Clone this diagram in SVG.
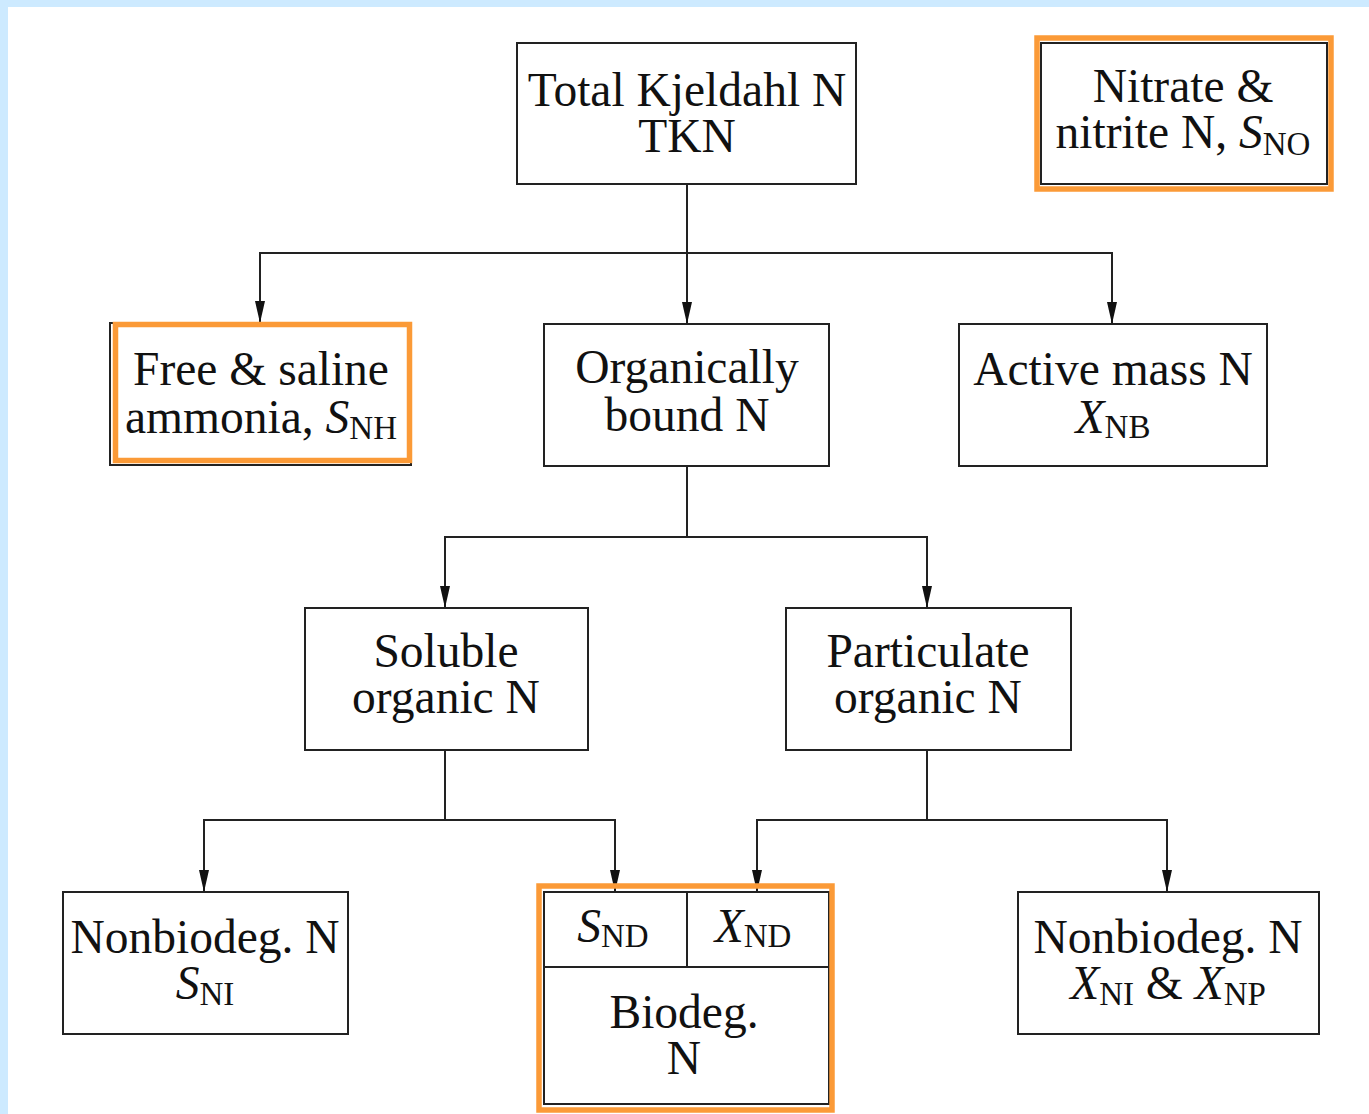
<svg xmlns="http://www.w3.org/2000/svg" width="1369" height="1114" viewBox="0 0 1369 1114">
<style>
.bg{fill:#ffffff}
.band{fill:#cdeaff}
.box{fill:#ffffff;stroke:#222;stroke-width:2}
.div{fill:none;stroke:#222;stroke-width:2}
.hl{fill:none;stroke:#fb9a37;stroke-width:5.5}
.wire{fill:none;stroke:#222;stroke-width:2}
text{font-family:"Liberation Serif","Times New Roman",serif;font-size:47.5px;fill:#111;text-anchor:middle}
.i{font-style:italic}
.sub{font-size:33px}
</style>
<defs>
<marker id="arr" viewBox="0 -5 22 10" refX="22" refY="0" markerWidth="22" markerHeight="10" markerUnits="userSpaceOnUse" orient="auto">
<path d="M0,-5 L22,0 L0,5 z" fill="#111"/>
</marker>
</defs>
<rect class="bg" x="0" y="0" width="1369" height="1114"/>
<rect class="band" x="0" y="0" width="1369" height="7"/>
<rect class="band" x="0" y="0" width="8" height="1114"/>

<g id="connectors">
<path class="wire" d="M687,184 V324" marker-end="url(#arr)"/>
<path class="wire" d="M687,253 H260 V323" marker-end="url(#arr)"/>
<path class="wire" d="M687,253 H1112 V324" marker-end="url(#arr)"/>
<path class="wire" d="M687,466 V537 H445 V608" marker-end="url(#arr)"/>
<path class="wire" d="M687,537 H927 V608" marker-end="url(#arr)"/>
<path class="wire" d="M445,750 V820 H204 V892" marker-end="url(#arr)"/>
<path class="wire" d="M445,820 H615 V892" marker-end="url(#arr)"/>
<path class="wire" d="M927,750 V820 H757 V892" marker-end="url(#arr)"/>
<path class="wire" d="M927,820 H1167 V892" marker-end="url(#arr)"/>
</g>

<g id="tkn">
<rect class="box" x="517" y="43" width="339" height="141"/>
<text><tspan x="687" y="106">Total Kjeldahl N</tspan><tspan x="687" y="152">TKN</tspan></text>
</g>

<g id="nitrate">
<rect class="box" x="1041" y="43" width="286" height="141"/>
<rect class="hl" x="1037" y="38" width="294" height="151"/>
<text><tspan x="1183" y="102">Nitrate &amp;</tspan><tspan x="1183" y="148">nitrite N, </tspan><tspan class="i">S</tspan><tspan class="sub" dy="7">NO</tspan></text>
</g>

<g id="ammonia">
<rect class="box" x="110" y="323" width="301" height="142"/>
<rect class="hl" x="115.5" y="324.5" width="294" height="136"/>
<text><tspan x="261" y="385">Free &amp; saline</tspan><tspan x="261" y="433">ammonia, </tspan><tspan class="i">S</tspan><tspan class="sub" dy="6">NH</tspan></text>
</g>

<g id="organic">
<rect class="box" x="544" y="324" width="285" height="142"/>
<text><tspan x="687" y="383">Organically</tspan><tspan x="687" y="431">bound N</tspan></text>
</g>

<g id="active">
<rect class="box" x="959" y="324" width="308" height="142"/>
<text><tspan x="1113" y="385">Active mass N</tspan><tspan x="1113" y="433" class="i">X</tspan><tspan class="sub" dy="5">NB</tspan></text>
</g>

<g id="soluble">
<rect class="box" x="305" y="608" width="283" height="142"/>
<text><tspan x="446" y="667">Soluble</tspan><tspan x="446" y="713">organic N</tspan></text>
</g>

<g id="particulate">
<rect class="box" x="786" y="608" width="285" height="142"/>
<text><tspan x="928" y="667">Particulate</tspan><tspan x="928" y="713">organic N</tspan></text>
</g>

<g id="nonbio-s">
<rect class="box" x="63" y="892" width="285" height="142"/>
<text><tspan x="205" y="953">Nonbiodeg. N</tspan><tspan x="205" y="999" class="i">S</tspan><tspan class="sub" dy="6">NI</tspan></text>
</g>

<g id="biodeg">
<rect class="box" x="544" y="892" width="285" height="212"/>
<path class="div" d="M544,967 H829 M687,892 V967"/>
<rect class="hl" x="539" y="886" width="293" height="224"/>
<text x="613" y="942"><tspan class="i">S</tspan><tspan class="sub" dy="5">ND</tspan></text>
<text x="753" y="942"><tspan class="i">X</tspan><tspan class="sub" dy="5">ND</tspan></text>
<text><tspan x="684" y="1028">Biodeg.</tspan><tspan x="684" y="1074">N</tspan></text>
</g>

<g id="nonbio-x">
<rect class="box" x="1018" y="892" width="301" height="142"/>
<text><tspan x="1168" y="953">Nonbiodeg. N</tspan><tspan x="1168" y="999" class="i">X</tspan><tspan class="sub" dy="6">NI</tspan><tspan dy="-6"> &amp; </tspan><tspan class="i">X</tspan><tspan class="sub" dy="6">NP</tspan></text>
</g>
</svg>
